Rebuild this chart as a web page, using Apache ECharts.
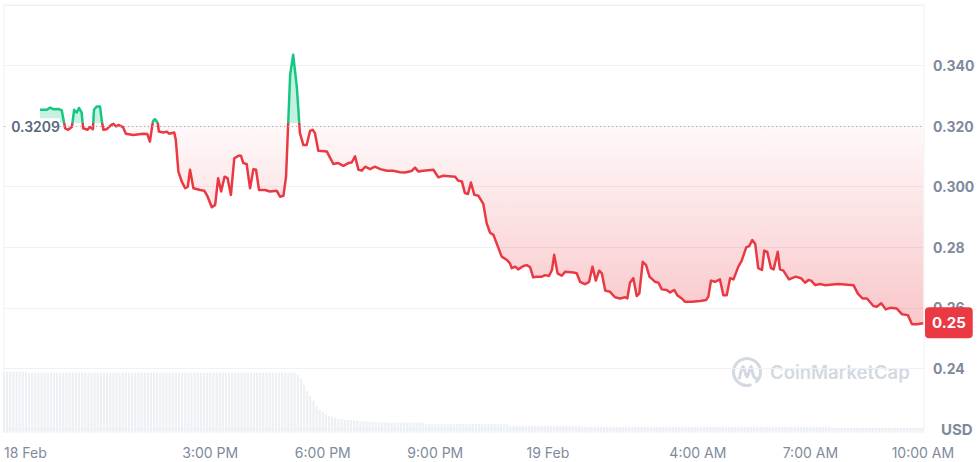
<!DOCTYPE html>
<html><head><meta charset="utf-8">
<script src="https://cdn.jsdelivr.net/npm/echarts@6/dist/echarts.min.js"></script>
<style>html,body{margin:0;padding:0;background:#fff}#c{width:978px;height:462px}</style>
</head><body><div id="c"></div>
<script>
// time in hours since 18 Feb 00:00
const hours = [
10.46,10.64,10.73,10.81,10.95,11.04,11.13,11.21,11.31,11.37,
11.44,11.50,11.57,11.61,11.73,11.79,11.87,11.90,11.97,12.06,
12.11,12.15,12.24,12.33,12.41,12.49,12.55,12.67,12.75,12.95,
13.21,13.32,13.39,13.47,13.50,13.53,13.60,13.63,13.75,13.84,
13.90,14.04,14.08,14.15,14.24,14.33,14.40,14.46,14.55,14.73,
14.84,14.93,15.04,15.13,15.21,15.29,15.38,15.46,15.55,15.64,
15.75,15.82,15.88,15.97,16.06,16.15,16.22,16.30,16.46,16.59,
16.77,16.86,16.95,17.02,17.13,17.21,17.31,17.39,17.48,17.57,
17.66,17.73,17.79,17.88,18.11,18.28,18.41,18.55,18.68,18.77,
18.86,18.95,19.04,19.13,19.26,19.39,19.53,19.71,19.88,20.06,
20.19,20.37,20.46,20.55,20.68,20.95,21.08,21.21,21.53,21.61,
21.71,21.79,21.87,21.95,22.04,22.15,22.28,22.37,22.46,22.55,
22.77,22.91,22.99,23.04,23.13,23.21,23.35,23.44,23.53,23.61,
23.70,23.84,23.93,24.03,24.11,24.17,24.26,24.37,24.46,24.68,
24.77,24.86,24.99,25.10,25.19,25.28,25.37,25.44,25.53,25.66,
25.79,25.93,26.06,26.12,26.19,26.28,26.37,26.44,26.53,26.62,
26.71,26.86,26.95,27.04,27.17,27.26,27.37,27.45,27.57,27.66,
27.84,28.06,28.22,28.28,28.35,28.46,28.59,28.68,28.77,28.86,
28.95,29.08,29.17,29.29,29.37,29.45,29.53,29.61,29.71,29.77,
29.85,29.95,30.02,30.13,30.19,30.28,30.43,30.61,30.75,30.86,
30.95,31.02,31.13,31.26,31.39,31.66,31.75,32.15,32.27,32.39,
32.51,32.68,32.77,32.89,33.01,33.13,33.30,33.44,33.60,33.71,
33.84,34.01
];
const prices = [
0.3254,0.3254,0.3261,0.3256,0.3257,0.3252,0.3193,0.3188,0.3197,0.3254,
0.3245,0.3260,0.3245,0.3193,0.3188,0.3197,0.3190,0.3254,0.3265,0.3265,
0.3215,0.3188,0.3190,0.3201,0.3208,0.3199,0.3204,0.3197,0.3175,0.3171,
0.3175,0.3174,0.3149,0.3215,0.3221,0.3223,0.3210,0.3182,0.3179,0.3182,
0.3175,0.3179,0.3155,0.3050,0.3017,0.2995,0.3000,0.3056,0.2995,0.2989,
0.2987,0.2967,0.2932,0.2940,0.3028,0.2984,0.3033,0.3028,0.2973,0.3094,
0.3102,0.3102,0.3078,0.3075,0.2995,0.3058,0.3056,0.2989,0.2989,0.2984,
0.2987,0.2967,0.2970,0.3033,0.3370,0.3436,0.3326,0.3177,0.3138,0.3138,
0.3184,0.3188,0.3177,0.3119,0.3116,0.3075,0.3078,0.3069,0.3078,0.3080,
0.3100,0.3056,0.3053,0.3066,0.3058,0.3066,0.3058,0.3053,0.3053,0.3048,
0.3047,0.3052,0.3063,0.3050,0.3053,0.3056,0.3031,0.3036,0.3033,0.3020,
0.3017,0.2979,0.2976,0.3014,0.2973,0.2970,0.2943,0.2879,0.2848,0.2841,
0.2769,0.2758,0.2747,0.2731,0.2736,0.2727,0.2738,0.2741,0.2734,0.2701,
0.2703,0.2703,0.2708,0.2705,0.2725,0.2775,0.2714,0.2706,0.2719,0.2717,
0.2714,0.2686,0.2678,0.2686,0.2736,0.2690,0.2723,0.2714,0.2657,0.2653,
0.2635,0.2631,0.2635,0.2631,0.2683,0.2698,0.2639,0.2648,0.2752,0.2741,
0.2703,0.2686,0.2683,0.2661,0.2659,0.2651,0.2659,0.2642,0.2631,0.2620,
0.2620,0.2623,0.2626,0.2637,0.2690,0.2686,0.2694,0.2642,0.2642,0.2698,
0.2694,0.2736,0.2756,0.2800,0.2804,0.2824,0.2811,0.2731,0.2725,0.2789,
0.2785,0.2731,0.2727,0.2785,0.2727,0.2723,0.2694,0.2703,0.2698,0.2683,
0.2692,0.2690,0.2675,0.2679,0.2675,0.2678,0.2679,0.2675,0.2646,0.2631,
0.2631,0.2606,0.2604,0.2615,0.2595,0.2600,0.2598,0.2579,0.2576,0.2546,
0.2546,0.2549
];
const refPrice = 0.3209;

// volume bars, one per 5 minutes from 9:30 AM (relative units)
const volStartHour = 9.5;
const volStepHours = 5 / 60;
const volume = [
61,61,61,61,61,61,61,61,
60,60,60,60,60,60,60,60,60,60,
60,60,60,60,60,60,60,60,60,60,
60,60,60,60,60,60,60,60,60,60,
60,60,60,60,60,60,60,60,60,60,
60,60,60,60,60,60,60,60,60,60,
60,60,60,60,60,60,60,60,60,60,
60,60,60,60,60,60,60,60,60,60,
60,60,60,60,60,60,60,60,60,60,
60,60,60,60,60,60,
58,54,48,42,37,32,27,23,21,18.5,17,16,15,14,13.5,13,12.7,12.5,12.2,12,11.8,11.6,11.5,11.2,11,
10.5,10.5,10.5,10.5,10,10,10,10,10,10,10,10,10,10,10,10,
8.7,8.7,8.7,8.7,8.7,8.7,8.7,8.7,8.7,8.7,
8.7,8.7,8.7,8.7,8.7,8.7,8.7,8.7,8.7,8.7,
8.7,8.7,8.7,8.7,8.7,8.7,8.7,
6.8,6.8,6.8,6.8,6.8,6.8,6.8,6.8,6.8,6.8,
6.8,6.8,6.8,6.8,6.8,6.8,6.8,6.8,6.8,6.8,
6.8,6.8,6.8,
6,6,6,6,6,6,6,6,6,6,
6,6,6,6,6,6,6,6,6,6,
6,6,6,6,6,6,6,6,6,6,
6,6,6,6,6,6,6,6,6,6,
6,6,6,6,6,6,6,6,6,6,
6,6,6,6,6,6,6,6,6,6,
6,6,6,6,6,6,6,6,6,6,
6,6,6,6,6,6,6,6,6,6,
5,5,5,5,5,5,5,5,5,5,
5,5,5,5,5,5,5,5,5,5,
5,5,5,5,5,5,5,5,5,5
];

const xMinHour = 9.5, xMaxHour = 34.03;
const tickHours = [9.5, 15, 18, 21, 24, 28, 31, 34];
const tickLabels = ['18 Feb', '3:00 PM', '6:00 PM', '9:00 PM', '19 Feb', '4:00 AM', '7:00 AM', '10:00 AM'];
const priceTickValues = [0.22, 0.24, 0.26, 0.28, 0.30, 0.32, 0.34, 0.36];
const priceTickLabels = ['USD', '0.24', '0.26', '0.28', '0.300', '0.320', '0.340', ''];

const GREEN = '#16c784', RED = '#ea3943';
const FONT = 'Inter, "Noto Sans", sans-serif';

const chart = echarts.init(document.getElementById('c'), null, { renderer: 'svg' });
const priceData = hours.map((h, i) => [h, prices[i]]);
const volData = volume.map((v, i) => [volStartHour + i * volStepHours, v]);
const lastPrice = prices[prices.length - 1];

function buildOption(areaColor) {
  return {
    animation: false,
    backgroundColor: '#fff',
    grid: [
      { left: 4, right: 54, top: 5, bottom: 33, show: true, borderColor: '#eff2f5', borderWidth: 1 },
      { left: 4, right: 54, top: 371.7, height: 61 }
    ],
    xAxis: [
      {
        gridIndex: 0, type: 'value', min: xMinHour, max: xMaxHour,
        axisLine: { show: false }, axisTick: { show: false }, splitLine: { show: false },
        axisLabel: {
          customValues: tickHours,
          alignMinLabel: 'left',
          margin: 16, color: '#808a9d', fontSize: 14, fontFamily: FONT,
          formatter: v => { const i = tickHours.findIndex(t => Math.abs(t - v) < 1e-6); return i >= 0 ? tickLabels[i] : ''; }
        }
      },
      { gridIndex: 1, type: 'value', min: xMinHour, max: xMaxHour, show: false }
    ],
    yAxis: [
      {
        gridIndex: 0, type: 'value', position: 'right', min: 0.22, max: 0.36, interval: 0.02,
        axisLine: { show: false }, axisTick: { show: false },
        splitLine: { lineStyle: { color: '#eff2f5', width: 1 } },
        axisLabel: {
          margin: 9, color: '#808a9d', fontSize: 14, fontWeight: 700, fontFamily: FONT,
          formatter: v => {
            const i = priceTickValues.findIndex(t => Math.abs(t - v) < 1e-6);
            if (i < 0) return '';
            return i === 0 ? '{u|' + priceTickLabels[i] + '}' : priceTickLabels[i];
          },
          rich: { u: { fontSize: 15, fontWeight: 700, color: '#808a9d', fontFamily: FONT, padding: [0, 0, 0, 8] } }
        }
      },
      { gridIndex: 1, type: 'value', min: 0, max: 61, show: false }
    ],
    visualMap: {
      type: 'piecewise', show: false, seriesIndex: 0, dimension: 1,
      pieces: [{ gte: 0, lte: refPrice, color: RED }, { gt: refPrice, lte: 1, color: GREEN }]
    },
    series: [
      {
        type: 'line', xAxisIndex: 0, yAxisIndex: 0, data: priceData, z: 3,
        showSymbol: false, symbol: 'none',
        lineStyle: { width: 2.5, join: 'round' },
        areaStyle: { origin: refPrice, color: areaColor, opacity: 1 },
        markLine: {
          silent: true, symbol: ['none', 'none'], animation: false,
          data: [
            {
              yAxis: refPrice,
              lineStyle: { color: '#a3aab7', type: [1, 3], width: 1 },
              label: {
                show: true, position: 'start', distance: -56, formatter: String(refPrice),
                color: '#58667e', fontSize: 14, fontWeight: 600, fontFamily: FONT,
                backgroundColor: '#fff', padding: [1, 0, 1, 4]
              }
            },
            {
              yAxis: lastPrice,
              lineStyle: { color: 'rgba(0,0,0,0)', width: 0 },
              label: {
                show: true, position: 'end', distance: 1, formatter: lastPrice.toFixed(2),
                align: 'left', verticalAlign: 'middle', offset: [0, -15.5],
                color: '#fff', fontSize: 15, fontWeight: 700, fontFamily: FONT, lineHeight: 15,
                backgroundColor: RED, padding: [8, 7, 8, 7], borderRadius: 4
              }
            }
          ]
        }
      },
      {
        type: 'bar', xAxisIndex: 1, yAxisIndex: 1, data: volData, z: 1,
        barWidth: 2.2, itemStyle: { color: '#edf0f4' }, silent: true
      }
    ],
    graphic: [
      {
        type: 'arc', silent: true, z: 0,
        shape: { cx: 747, cy: 372, r: 13.5, startAngle: Math.PI * 0.42, endAngle: Math.PI * 2.25 },
        style: { stroke: '#d3d9e2', lineWidth: 3, fill: 'none', lineCap: 'round' }
      },
      {
        type: 'polyline', silent: true, z: 0,
        shape: { points: [[739.5, 378], [743, 366.5], [747, 377], [751, 366.5], [753.5, 376], [757, 379]], smooth: 0.3 },
        style: { stroke: '#d3d9e2', lineWidth: 3, fill: 'none', lineCap: 'round', lineJoin: 'round' }
      },
      {
        type: 'text', silent: true, z: 0, left: 770, top: 362,
        style: { text: 'CoinMarketCap', fontSize: 18.5, fontWeight: 600, fill: '#d3d9e2', fontFamily: FONT }
      }
    ]
  };
}

chart.setOption(buildOption('rgba(234,57,67,0.15)'));
const yb = chart.convertToPixel({ yAxisIndex: 0 }, refPrice);
const yLow = chart.convertToPixel({ yAxisIndex: 0 }, 0.255);
const H = 462;
const grad = new echarts.graphic.LinearGradient(0, 0, 0, H, [
  { offset: 0, color: 'rgba(22,199,132,0.30)' },
  { offset: yb / H, color: 'rgba(22,199,132,0.24)' },
  { offset: yb / H + 0.0001, color: 'rgba(234,57,67,0.03)' },
  { offset: yLow / H, color: 'rgba(234,57,67,0.28)' },
  { offset: 1, color: 'rgba(234,57,67,0.30)' }
], true);
chart.setOption(buildOption(grad), true);
</script>
</body></html>
